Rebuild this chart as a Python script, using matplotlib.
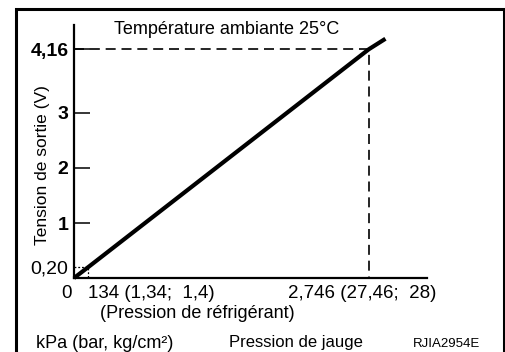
import matplotlib
matplotlib.use("Agg")
import matplotlib.pyplot as plt
from matplotlib.lines import Line2D
from matplotlib.transforms import ScaledTranslation

plt.rcParams['font.family'] = ['Liberation Sans', 'DejaVu Sans']

# Sensor characteristic: gauge pressure (kPa) vs output voltage (V)
line_kpa = [0, 134, 2746, 2900]
line_volt = [0.0, 0.20, 4.16, 4.35]

ref_low = (134, 0.20)
ref_high = (2746, 4.16)

y_ticks = [0.20, 1, 2, 3, 4.16]
y_labels = ["0,20", "1", "2", "3", "4,16"]
x_ticks = [0, 134, 2746]
x_labels = ["0", "134 (1,34;  1,4)", "2,746 (27,46;  28)"]

W, H = 505, 352
fig = plt.figure(figsize=(W / 100, H / 100), dpi=100)


def fx(x):
    return x / W


def fy(y):
    return 1 - y / H


ax = fig.add_axes([fx(74), fy(278), (427 - 74) / W, (278 - 25) / H])
ax.set_xlim(0, 3287)
ax.set_ylim(0, 4.6)

for side in ("top", "right"):
    ax.spines[side].set_visible(False)
for side in ("left", "bottom"):
    ax.spines[side].set_linewidth(1.6)

# main characteristic line
ax.plot(line_kpa, line_volt, color="black", lw=3.0, solid_capstyle="butt",
        clip_on=False, zorder=3)

# reference guides
ax.plot([0, ref_high[0], ref_high[0]], [ref_high[1], ref_high[1], 0],
        color="black", lw=1.2, dashes=(6, 3.5), zorder=2)
ax.plot([0, ref_low[0], ref_low[0]], [ref_low[1], ref_low[1], 0],
        color="black", lw=0.9, dashes=(1.5, 1.5), zorder=2)

# y axis ticks
ax.set_yticks(y_ticks)
ax.set_yticklabels(y_labels, fontsize=14, fontweight="bold")
ax.tick_params(axis="y", direction="in", length=11.5, width=1.1, pad=4)
low_tick = ax.yaxis.get_major_ticks()[0]
low_tick.tick1line.set_visible(False)
low_tick.label1.set_fontweight("normal")

# x axis ticks
ax.set_xticks(x_ticks)
ax.set_xticklabels(x_labels, fontsize=13.5)
ax.tick_params(axis="x", length=0, pad=5)
xl = ax.get_xticklabels()
xl[0].set_ha("right")
xl[0].set_transform(xl[0].get_transform() + ScaledTranslation(-0.02, 0, fig.dpi_scale_trans))
xl[1].set_ha("left")
xl[2].set_ha("center")
xl[2].set_transform(xl[2].get_transform() + ScaledTranslation(-0.07, 0, fig.dpi_scale_trans))

fig.text(fx(43), fy(165), "Tension de sortie (V)", fontsize=12.5,
         rotation=90, ha="center", va="center")

fig.text(fx(227), fy(30), "Température ambiante 25°C", fontsize=13,
         ha="center", va="center")
fig.text(fx(197), fy(314), "(Pression de réfrigérant)", fontsize=13,
         ha="center", va="center")
fig.text(fx(36), fy(343), "kPa (bar, kg/cm²)", fontsize=13,
         ha="left", va="center")
fig.text(fx(229), fy(343), "Pression de jauge", fontsize=12,
         ha="left", va="center")
fig.text(fx(413), fy(344), "RJIA2954E", fontsize=9.5,
         ha="left", va="center")

# outer frame (open at the bottom)
frame_x = [fx(15.5), fx(15.5), fx(503.5), fx(503.5)]
frame_y = [fy(H + 5), fy(8.5), fy(8.5), fy(H + 5)]
fig.add_artist(Line2D(frame_x, frame_y, transform=fig.transFigure,
                      color="black", lw=2.2, solid_joinstyle="miter"))

fig.savefig("out.png", dpi=100)
